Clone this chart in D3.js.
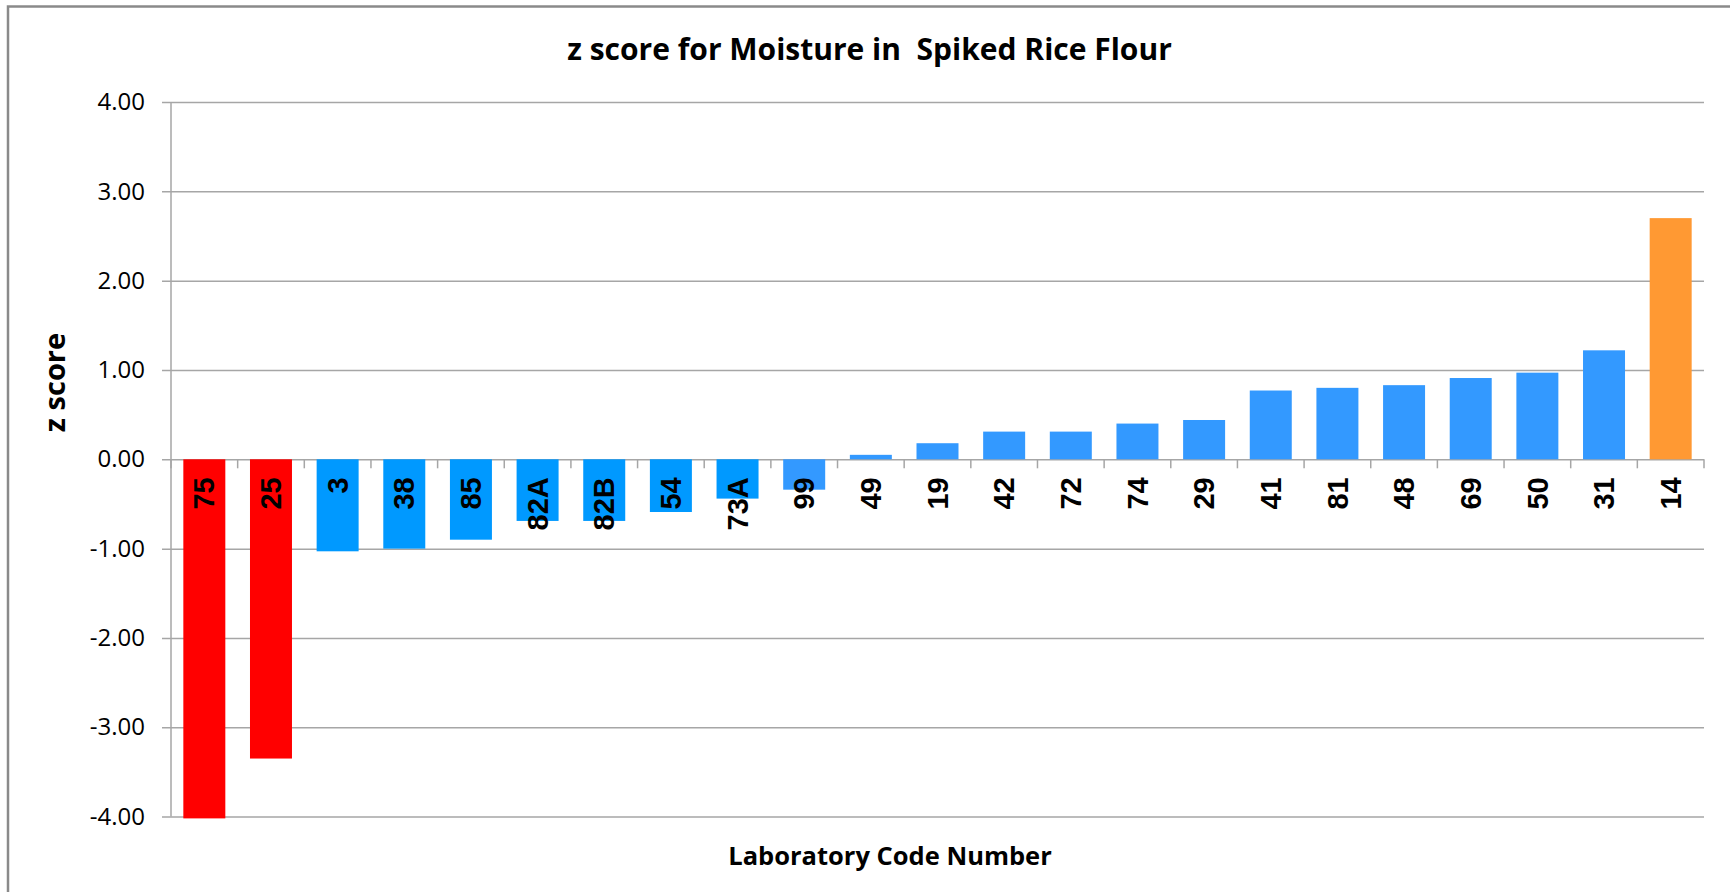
<!DOCTYPE html>
<html>
<head>
<meta charset="utf-8">
<script src="https://cdn.jsdelivr.net/npm/d3@7"></script>
<style>
	body { margin: 0; background: #fff; }
	svg { display: block; }
	text { white-space: pre; }
</style>
</head>
<body>
<div id="chart"></div>
<script>
var labCodes = ["75", "25", "3", "38", "85", "82A", "82B", "54", "73A", "99",
	"49", "19", "42", "72", "74", "29", "41", "81", "48", "69", "50", "31", "14"
];
var zScores = [-4.02, -3.35, -1.03, -1.00, -0.90, -0.69, -0.69, -0.59, -0.44,
	-0.34, 0.05, 0.18, 0.31, 0.31, 0.40, 0.44, 0.77, 0.80, 0.83, 0.91, 0.97,
	1.22, 2.70
];
// which series each bar belongs to
var barSeries = ["out", "out", "inA", "inA", "inA", "inA", "inA", "inA", "inA",
	"inB", "inB", "inB", "inB", "inB", "inB", "inB", "inB", "inB", "inB", "inB",
	"inB", "inB", "warn"
];
var yTicks = [-4, -3, -2, -1, 0, 1, 2, 3, 4];
var chartTitle = "z score for Moisture in  Spiked Rice Flour";
var xTitle = "Laboratory Code Number";
var yTitle = "z score";

var width = 1730,
	height = 892;
var plot = { left: 171, right: 1704, top: 102, bottom: 816.6 };

var svg = d3.select("#chart").append("svg")
	.attr("width", width)
	.attr("height", height);

svg.append("rect")
	.attr("x", 8)
	.attr("y", 6.5)
	.attr("width", width + 20)
	.attr("height", height + 20)
	.attr("fill", "#fff")
	.attr("stroke", "#8a8a8a")
	.attr("stroke-width", 2.5);

var x = d3.scaleBand()
	.domain(labCodes)
	.range([plot.left, plot.right])
	.paddingInner(0.37)
	.paddingOuter(0.185);

var y = d3.scaleLinear()
	.domain([-4, 4])
	.range([plot.bottom, plot.top]);

var color = d3.scaleOrdinal()
	.domain(["out", "inA", "inB", "warn"])
	.range(["#ff0000", "#0099ff", "#3399ff", "#ff9933"]);

//gridlines + y axis
var fmt = d3.format(".2f");
var yAxis = d3.axisLeft(y)
	.tickValues(yTicks)
	.tickSize(-(plot.right - plot.left))
	.tickPadding(16)
	.tickFormat(function(d) { return fmt(d).replace("\u2212", "-"); });

var gy = svg.append("g")
	.attr("transform", "translate(" + plot.left + ",0)")
	.call(yAxis);
gy.select(".domain").remove();
gy.selectAll(".tick line")
	.attr("x1", -9)
	.attr("stroke", "#a6a6a6")
	.attr("stroke-width", 1.5);
gy.selectAll(".tick text")
	.attr("x", -26)
	.attr("font-family", "'Open Sans', sans-serif")
	.attr("font-size", 24)
	.attr("fill", "#000");

svg.append("line")
	.attr("x1", plot.left)
	.attr("x2", plot.left)
	.attr("y1", plot.top)
	.attr("y2", plot.bottom)
	.attr("stroke", "#a6a6a6")
	.attr("stroke-width", 1.5);

// bars
svg.append("g").selectAll("rect")
	.data(zScores)
	.enter()
	.append("rect")
	.attr("x", function(d, i) { return x(labCodes[i]); })
	.attr("width", x.bandwidth())
	.attr("y", function(d) { return y(Math.max(0, d)); })
	.attr("height", function(d) { return Math.abs(y(d) - y(0)); })
	.attr("fill", function(d, i) { return color(barSeries[i]); });

// category axis on zero line
var step = x.step();
var xAxisG = svg.append("g");
xAxisG.selectAll("line")
	.data(d3.range(labCodes.length + 1))
	.enter()
	.append("line")
	.attr("x1", function(i) { return plot.left + i * step; })
	.attr("x2", function(i) { return plot.left + i * step; })
	.attr("y1", y(0))
	.attr("y2", y(0) + 9)
	.attr("stroke", "#a6a6a6")
	.attr("stroke-width", 1.5);

xAxisG.selectAll("text")
	.data(labCodes)
	.enter()
	.append("text")
	.attr("transform", function(d) {
		return "translate(" + (x(d) + x.bandwidth() / 2) + "," + (y(0) + 18) + ") rotate(-90)";
	})
	.attr("dy", "0.35em")
	.attr("text-anchor", "end")
	.attr("font-family", "'Liberation Sans', Arial, sans-serif")
	.attr("font-weight", "bold")
	.attr("font-size", 29)
	.attr("fill", "#000")
	.text(function(d) { return d; });

// titles
svg.append("text")
	.attr("x", 869.5)
	.attr("y", 60)
	.attr("text-anchor", "middle")
	.attr("font-family", "'Open Sans', sans-serif")
	.attr("font-weight", "bold")
	.attr("font-size", 30)
	.text(chartTitle);

svg.append("text")
	.attr("x", 890)
	.attr("y", 865)
	.attr("text-anchor", "middle")
	.attr("font-family", "'Open Sans', sans-serif")
	.attr("font-weight", "bold")
	.attr("font-size", 25.5)
	.text(xTitle);

svg.append("text")
	.attr("transform", "translate(57,382.5) rotate(-90)")
	.attr("dy", "0.27em")
	.attr("text-anchor", "middle")
	.attr("font-family", "'Open Sans', sans-serif")
	.attr("font-weight", "bold")
	.attr("font-size", 29)
	.text(yTitle);
</script>
</body>
</html>
